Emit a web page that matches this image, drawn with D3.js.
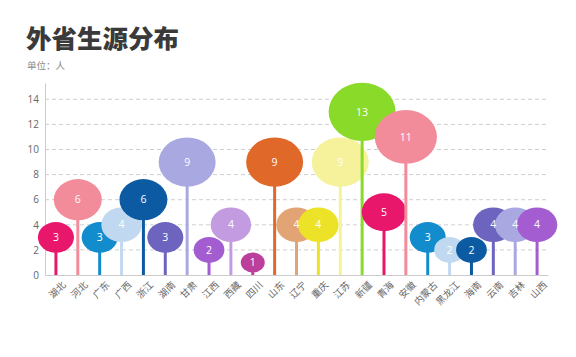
<!DOCTYPE html>
<html><head><meta charset="utf-8">
<script src="https://cdn.jsdelivr.net/npm/d3@7"></script>
<style>body{margin:0;background:#fff}svg{display:block}</style>
</head><body>
<svg id="c" width="576" height="357"></svg>
<script>
const categories = ["湖北","河北","广东","广西","浙江","湖南","甘肃","江西","西藏","四川","山东","辽宁","重庆","江苏","新疆","青海","安徽","内蒙古","黑龙江","海南","云南","吉林","山西"];
const values = [3,6,3,4,6,3,9,2,4,1,9,4,4,9,13,5,11,3,2,2,4,4,4];
const palette = ["#e8176b","#f28b9a","#138ccd","#c1d9f0","#0b5aa2","#6c64bf","#aaa8e0","#a35dd0","#c39be0","#bd3f9c","#e0692a","#e2a474","#ece227","#f6f19b","#8ada2a"];
const yTicks = [0,2,4,6,8,10,12,14];

const svg = d3.select("#c");
const m = {l:45, r:548, t:83, b:275};
const x = d3.scaleBand().domain(categories).range([m.l, m.r]).paddingInner(0).paddingOuter(0);
const y = d3.scaleLinear().domain([0, 15.3]).range([m.b, m.t]);
const rx = d3.scaleSqrt().domain([0, 1]).range([3.75, 3.75 + 8.25]).clamp(false);
const ry = d3.scaleSqrt().domain([0, 1]).range([2.7, 2.7 + 7.3]).clamp(false);
const color = i => palette[i % palette.length];

// title
svg.append("text").attr("x", 26).attr("y", 48).text("外省生源分布")
  .attr("font-family", "'Noto Sans CJK SC'").attr("font-weight", 900)
  .attr("font-size", 25.5).attr("fill", "#3a3a3a");
svg.append("text").attr("x", 27).attr("y", 69).text("单位：人")
  .attr("font-family", "'Noto Sans CJK SC'").attr("font-size", 9.5).attr("fill", "#8a8a8a");

// grid
svg.append("g").selectAll("line").data(yTicks.filter(d => d > 0)).join("line")
  .attr("x1", m.l).attr("x2", m.r).attr("y1", d => y(d)).attr("y2", d => y(d))
  .attr("stroke", "#cfcfcf").attr("stroke-dasharray", "4,3").attr("stroke-width", 1);

// y axis
const ya = svg.append("g").attr("transform", `translate(${m.l},0)`)
  .call(d3.axisLeft(y).tickValues(yTicks).tickSize(0).tickPadding(6));
ya.select(".domain").attr("stroke", "#cccccc");
ya.selectAll("text").attr("font-family", "'Open Sans', sans-serif").attr("font-size", 10).attr("fill", "#666");

// x axis
const xa = svg.append("g").attr("transform", `translate(0,${m.b})`)
  .call(d3.axisBottom(x).tickSize(0).tickPadding(6));
xa.select(".domain").attr("stroke", "#cccccc");
xa.selectAll("text").attr("font-family", "'Noto Sans CJK SC'").attr("font-size", 9.5).attr("fill", "#666")
  .attr("text-anchor", "end").attr("dy", "0.35em")
  .attr("transform", "translate(4,4) rotate(-45)");

// stems + bubbles
const g = svg.append("g");
categories.forEach((c, i) => {
  const cx = x(c) + x.bandwidth() / 2;
  const v = values[i];
  g.append("line").attr("x1", cx).attr("x2", cx).attr("y1", y(0)).attr("y2", y(v))
    .attr("stroke", color(i)).attr("stroke-width", 3);
  g.append("ellipse").attr("cx", cx).attr("cy", y(v))
    .attr("rx", rx(v)).attr("ry", ry(v)).attr("fill", color(i));
});
svg.append("g").selectAll("text").data(categories).join("text")
  .attr("x", c => x(c) + x.bandwidth() / 2).attr("y", (c, i) => y(values[i]))
  .attr("dy", "0.35em").attr("text-anchor", "middle")
  .attr("font-family", "'Open Sans', sans-serif").attr("font-size", 10.5).attr("fill", "#fff")
  .text((c, i) => values[i]);
</script>
</body></html>
